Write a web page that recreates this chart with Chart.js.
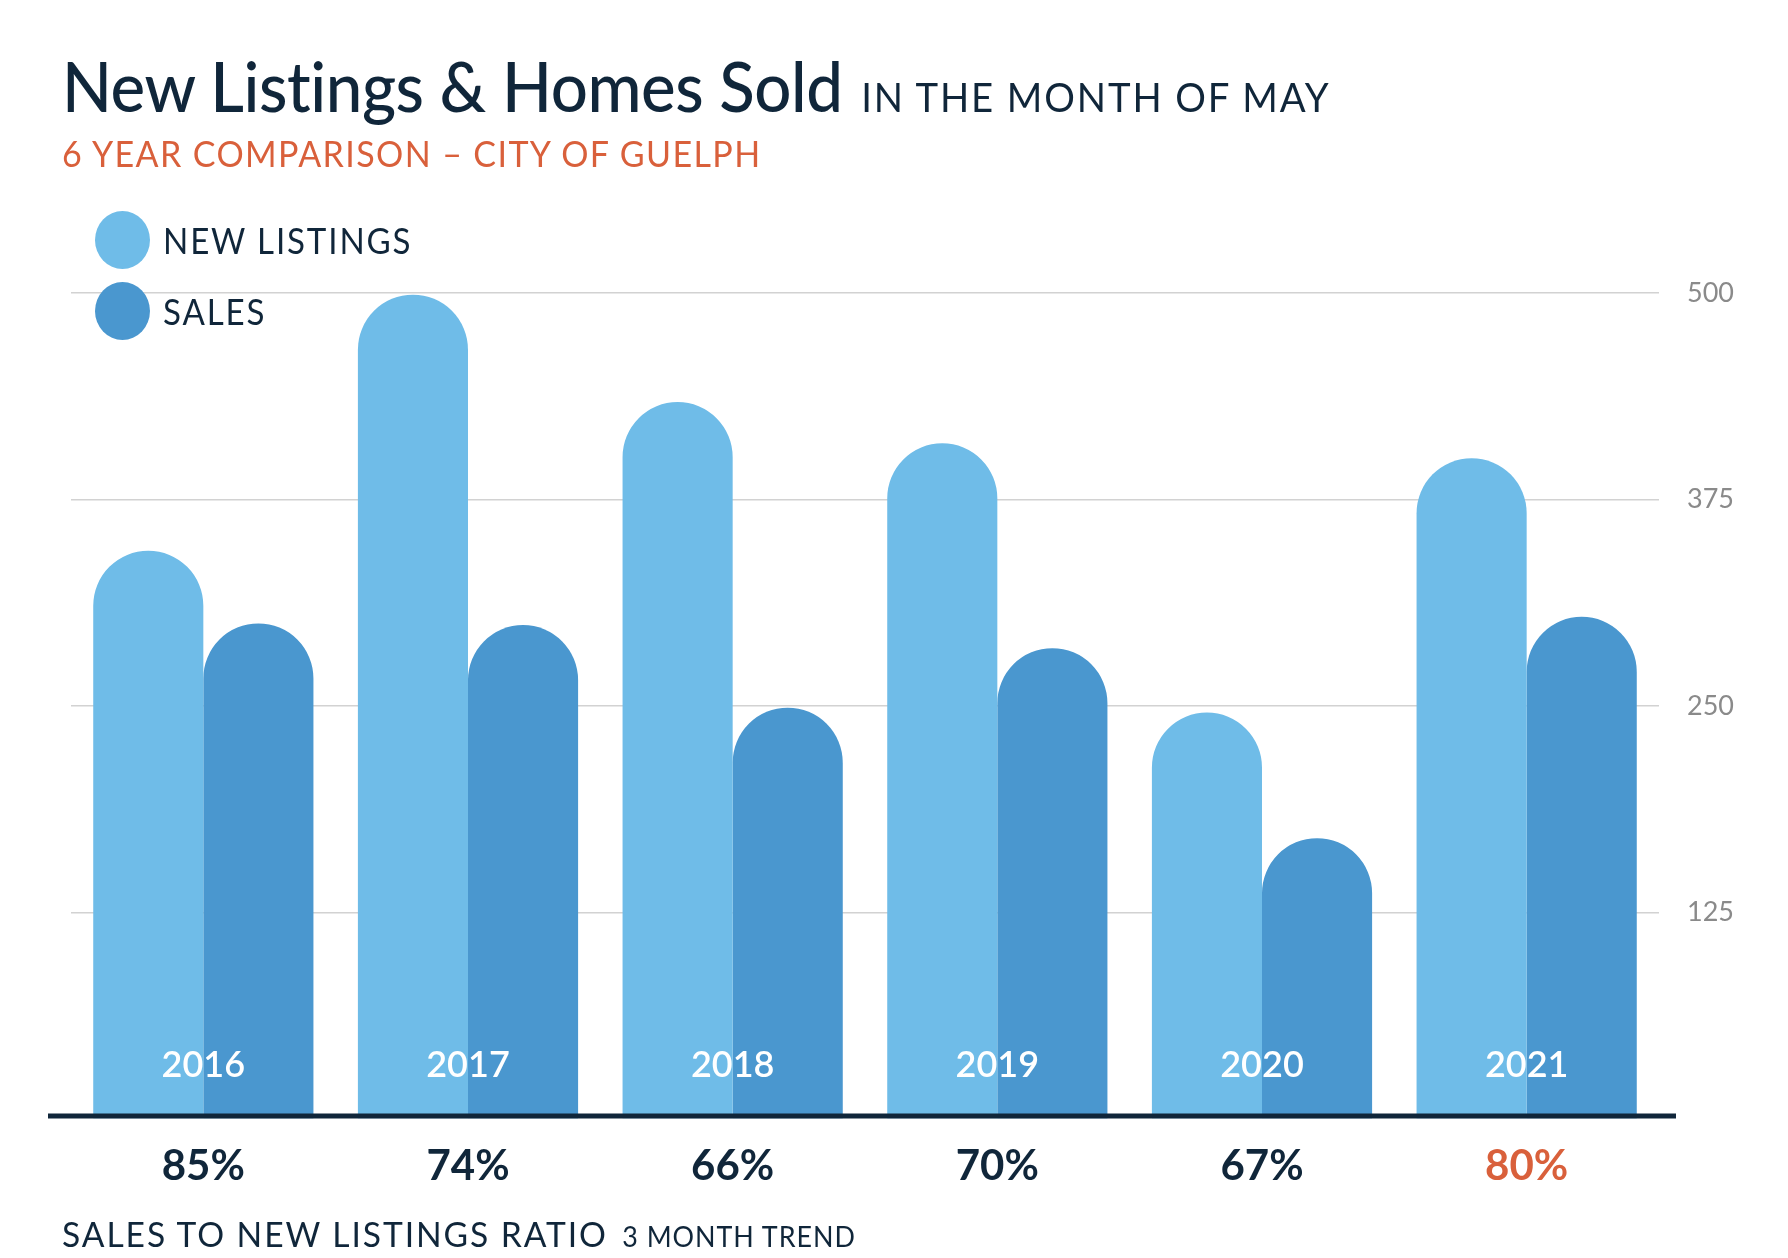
<!DOCTYPE html>
<html lang="en">

<head>
    <meta charset="UTF-8">
    <title>New Listings & Homes Sold</title>
    <script src="https://cdn.jsdelivr.net/npm/chart.js"></script>
    <style>
        body {
            margin: 0;
            background: #ffffff;
            font-family: 'Lato', sans-serif;
            color: #10263a;
        }

        #wrap {
            position: relative;
            width: 1788px;
            height: 1258px;
        }

        .txt {
            position: absolute;
            white-space: nowrap;
            line-height: 1;
            transform-origin: left center;
        }

        #title {
            left: 62px;
            top: 50px;
            font-size: 70px;
            font-weight: 500;
            letter-spacing: -0.5px;
            transform: scaleX(0.935);
        }

        #title span {
            font-size: 41px;
            font-weight: 400;
            letter-spacing: 2px;
            margin-left: 20px;
        }

        #subtitle {
            left: 62px;
            top: 134px;
            font-size: 37px;
            letter-spacing: 1.5px;
            color: #d9603b;
            transform: scaleX(0.92);
        }

        .legend-row {
            position: absolute;
            left: 95px;
            display: flex;
            align-items: center;
            font-size: 36px;
            letter-spacing: 2px;
        }

        .legend-row i {
            display: inline-block;
            width: 55px;
            height: 58px;
            border-radius: 50%;
            margin-right: 13px;
        }

        .legend-row b {
            font-weight: 400;
            display: inline-block;
            transform: scaleX(0.92);
            transform-origin: left center;
        }

        #footer {
            left: 62px;
            top: 1216px;
            font-size: 35px;
            letter-spacing: 2px;
            transform: scaleX(0.96);
        }

        #footer span {
            font-size: 28px;
            letter-spacing: 1px;
            margin-left: 4px;
        }
    </style>
</head>

<body>
    <div id="wrap">
        <canvas id="salesChart"></canvas>
        <div class="txt" id="title">New Listings &amp; Homes Sold<span>IN THE MONTH OF MAY</span></div>
        <div class="txt" id="subtitle">6 YEAR COMPARISON – CITY OF GUELPH</div>
        <div class="legend-row" style="top:211px"><i style="background:#6fbce8"></i><b>NEW LISTINGS</b></div>
        <div class="legend-row" style="top:282px"><i style="background:#4a97cf"></i><b>SALES</b></div>
        <div class="txt" id="footer">SALES TO NEW LISTINGS RATIO <span>3 MONTH TREND</span></div>
    </div>

    <script>
        const years = ['2016', '2017', '2018', '2019', '2020', '2021'];
        const newListings = [344, 499, 434, 409, 246, 400];
        const sales = [300, 299, 249, 285, 170, 304];
        const ratioLabels = ['85%', '74%', '66%', '70%', '67%', '80%'];
        const yTicks = [125, 250, 375, 500];

        const navy = '#10263a';
        const orange = '#d9603b';

        // year labels inside the bars + dark baseline
        const overlayPlugin = {
            id: 'overlay',
            afterDatasetsDraw(chart) {
                const ctx = chart.ctx;
                const x = chart.scales.x;
                const y = chart.scales.y;
                const area = chart.chartArea;
                const base = y.getPixelForValue(0);

                ctx.save();
                ctx.fillStyle = '#ffffff';
                ctx.font = '600 36px Lato';
                ctx.textAlign = 'center';
                ctx.textBaseline = 'middle';
                years.forEach((yr, i) => {
                    ctx.fillText(yr, x.getPixelForValue(i), base - 54);
                });

                ctx.strokeStyle = navy;
                ctx.lineWidth = 5;
                ctx.beginPath();
                ctx.moveTo(area.left - 23, base - 3);
                ctx.lineTo(area.right + 17, base - 3);
                ctx.stroke();
                ctx.restore();
            }
        };

        const ctx = document.getElementById('salesChart').getContext('2d');
        new Chart(ctx, {
            type: 'bar',
            data: {
                labels: years,
                datasets: [{
                    label: 'New Listings',
                    data: newListings,
                    backgroundColor: '#6fbce8',
                    borderRadius: { topLeft: 999, topRight: 999 },
                    borderSkipped: 'bottom',
                    categoryPercentage: 0.832,
                    barPercentage: 1.0
                }, {
                    label: 'Sales',
                    data: sales,
                    backgroundColor: '#4a97cf',
                    borderRadius: { topLeft: 999, topRight: 999 },
                    borderSkipped: 'bottom',
                    categoryPercentage: 0.832,
                    barPercentage: 1.0
                }]
            },
            options: {
                responsive: true,
                maintainAspectRatio: false,
                animation: false,
                layout: {
                    padding: { left: 71, top: 293, right: 0, bottom: 0 }
                },
                plugins: {
                    legend: { display: false },
                    tooltip: { enabled: false }
                },
                scales: {
                    x: {
                        grid: { display: false },
                        border: { display: false },
                        ticks: {
                            padding: 14,
                            font: { family: 'Lato', size: 42, weight: '700' },
                            color: (c) => c.index === ratioLabels.length - 1 ? orange : navy,
                            callback: (v, i) => ratioLabels[i]
                        },
                        afterFit: (scale) => { scale.height = 139; }
                    },
                    y: {
                        position: 'right',
                        min: 0,
                        max: 500,
                        afterBuildTicks: (scale) => {
                            scale.ticks = [0].concat(yTicks).map(v => ({ value: v }));
                        },
                        grid: {
                            drawTicks: false,
                            color: (c) => c.tick.value === 0 ? 'rgba(0,0,0,0)' : '#d2d2d2',
                            lineWidth: 1.5
                        },
                        border: { display: false },
                        ticks: {
                            padding: 28,
                            font: { family: 'Lato', size: 27 },
                            color: '#8a8a8a',
                            callback: (v) => v === 0 ? '' : v
                        },
                        afterFit: (scale) => { scale.width = 129; }
                    }
                }
            },
            plugins: [overlayPlugin]
        });
    </script>
</body>

</html>
